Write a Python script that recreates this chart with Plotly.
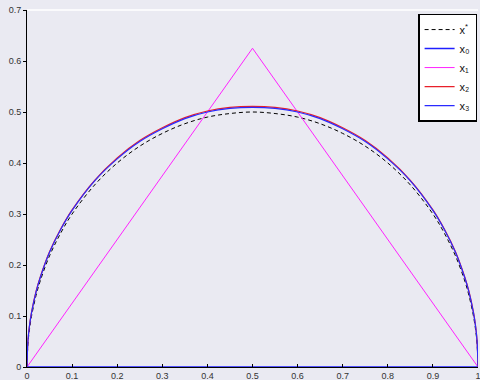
import plotly.graph_objects as go

xs = [0, 0.002, 0.005, 0.01, 0.02, 0.03, 0.05, 0.075, 0.1, 0.15, 0.2, 0.25, 0.3, 0.35, 0.4, 0.45, 0.5,
      0.55, 0.6, 0.65, 0.7, 0.75, 0.8, 0.85, 0.9, 0.925, 0.95, 0.97, 0.98, 0.99, 0.995, 0.998, 1]
x_star = [0, 0.0447, 0.0705, 0.0995, 0.14, 0.1706, 0.218, 0.263, 0.3, 0.357, 0.4, 0.433, 0.458, 0.477, 0.49, 0.497, 0.5,
          0.497, 0.49, 0.477, 0.458, 0.433, 0.4, 0.357, 0.3, 0.263, 0.218, 0.1706, 0.14, 0.0995, 0.0705, 0.0447, 0]
x2_vals = [0, 0.050, 0.078, 0.107, 0.148, 0.178, 0.226, 0.271, 0.308, 0.366, 0.410, 0.444, 0.469, 0.489, 0.502, 0.509, 0.511,
           0.509, 0.502, 0.489, 0.469, 0.444, 0.410, 0.366, 0.308, 0.271, 0.226, 0.178, 0.148, 0.107, 0.078, 0.050, 0]
x3_vals = [0, 0.050, 0.077, 0.106, 0.147, 0.177, 0.225, 0.270, 0.307, 0.365, 0.408, 0.442, 0.467, 0.487, 0.500, 0.507, 0.509,
           0.507, 0.500, 0.487, 0.467, 0.442, 0.408, 0.365, 0.307, 0.270, 0.225, 0.177, 0.147, 0.106, 0.077, 0.050, 0]
x0_x = [0, 1]
x0_vals = [0, 0]
x1_x = [0, 0.5, 1]
x1_vals = [0, 0.625, 0]

xticks = [0, 0.1, 0.2, 0.3, 0.4, 0.5, 0.6, 0.7, 0.8, 0.9, 1]
xticklabels = ["0", "0.1", "0.2", "0.3", "0.4", "0.5", "0.6", "0.7", "0.8", "0.9", "1"]
yticks = [0, 0.1, 0.2, 0.3, 0.4, 0.5, 0.6, 0.7]
yticklabels = ["0", "0.1", "0.2", "0.3", "0.4", "0.5", "0.6", "0.7"]
names = ["x<sup>*</sup>", "x₀", "x₁", "x₂", "x₃"]

bg = "#eaeaf2"
fig = go.Figure()
fig.add_trace(go.Scatter(x=xs, y=x_star, mode="lines", name=names[0],
                         line=dict(color="black", width=1, dash="4px,3px", shape="spline")))
fig.add_trace(go.Scatter(x=x0_x, y=x0_vals, mode="lines", name=names[1],
                         line=dict(color="#1f1fff", width=1.5)))
fig.add_trace(go.Scatter(x=x1_x, y=x1_vals, mode="lines", name=names[2],
                         line=dict(color="#ff22ff", width=1)))
fig.add_trace(go.Scatter(x=xs, y=x2_vals, mode="lines", name=names[3],
                         line=dict(color="#e8202a", width=1.2, shape="spline")))
fig.add_trace(go.Scatter(x=xs, y=x3_vals, mode="lines", name=names[4],
                         line=dict(color="#2a2aff", width=1.2, shape="spline")))

fig.update_layout(
    width=480, height=380,
    margin=dict(l=27, r=2, t=10, b=13),
    paper_bgcolor=bg, plot_bgcolor=bg,
    font=dict(family="Liberation Sans, Arial, sans-serif", size=9, color="#333333"),
    showlegend=True,
    legend=dict(x=0.998, y=0.99, xanchor="right", yanchor="top",
                bgcolor="white", bordercolor="black", borderwidth=1.5, itemwidth=30,
                font=dict(size=11, color="#111111"), tracegroupgap=0),
    xaxis=dict(range=[0, 1], tickvals=xticks, ticktext=xticklabels, ticks="inside", ticklen=3,
               tickcolor="black", showgrid=False, zeroline=False, showline=True, linecolor="black",
               linewidth=1, automargin=False, ticklabeloverflow="allow"),
    yaxis=dict(range=[0, 0.7], tickvals=yticks, ticktext=yticklabels, ticks="outside", ticklen=3,
               tickcolor="black", showgrid=False, zeroline=False, showline=True, linecolor="black",
               linewidth=1, automargin=False, ticklabeloverflow="allow"),
    shapes=[dict(type="line", xref="paper", yref="paper", x0=0, x1=1, y0=1, y1=1,
                 line=dict(color="white", width=1.5))],
)

fig.write_html("out.html", config={"displayModeBar": False},
               post_script="document.body.style.margin='0';document.body.style.background='%s';" % bg)
